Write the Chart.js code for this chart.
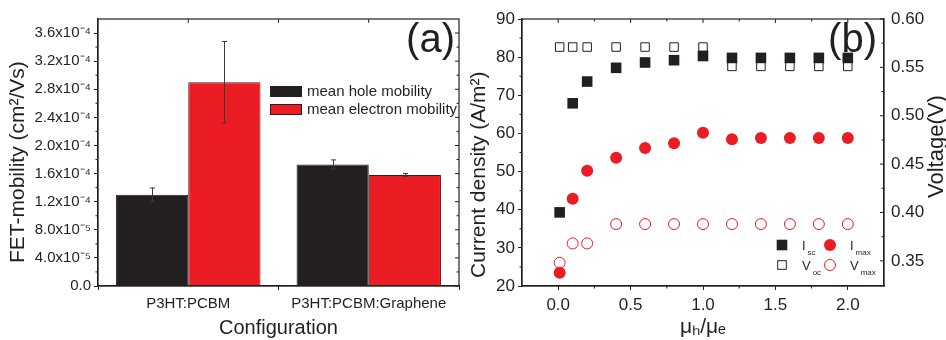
<!DOCTYPE html>
<html>
<head>
<meta charset="utf-8">
<script src="https://cdn.jsdelivr.net/npm/chart.js@4.4.1/dist/chart.umd.min.js"></script>
<style>
  html, body { margin: 0; padding: 0; background: #fff; }
  .panel { position: absolute; top: 0; height: 340px; }
  #wrapA { left: 0; width: 470px; }
  #wrapB { left: 470px; width: 476px; }
</style>
</head>
<body>
<div class="panel" id="wrapA"><canvas id="chartA"></canvas></div>
<div class="panel" id="wrapB"><canvas id="chartB"></canvas></div>
<script>
// panel (a)
const configurations = ['P3HT:PCBM', 'P3HT:PCBM:Graphene'];
const holeMobility = [1.30e-4, 1.73e-4];
const holeError = [0.095e-4, 0.065e-4];
const electronMobility = [2.90e-4, 1.58e-4];
const electronError = [0.58e-4, 0.02e-4];
const mobilityTicks = [0, 4e-5, 8e-5, 1.2e-4, 1.6e-4, 2.0e-4, 2.4e-4, 2.8e-4, 3.2e-4, 3.6e-4];

// panel (b)
const ratio = [0.01, 0.1, 0.2, 0.4, 0.6, 0.8, 1.0, 1.2, 1.4, 1.6, 1.8, 2.0];
const iSc = [39.3, 67.9, 73.6, 77.2, 78.6, 79.2, 80.3, 79.8, 79.8, 79.8, 79.8, 79.8];
const iMax = [23.5, 42.9, 50.2, 53.6, 56.2, 57.4, 60.2, 58.5, 58.8, 58.8, 58.8, 58.8];
const vOc = [0.571, 0.571, 0.571, 0.571, 0.571, 0.571, 0.571, 0.551, 0.551, 0.551, 0.551, 0.551];
const vMax = [0.348, 0.368, 0.368, 0.388, 0.388, 0.388, 0.388, 0.388, 0.388, 0.388, 0.388, 0.388];
const ratioTicks = [0, 0.5, 1.0, 1.5, 2.0];
const currentTicks = [20, 30, 40, 50, 60, 70, 80, 90];
const voltageTicks = [0.35, 0.40, 0.45, 0.50, 0.55, 0.60];

const INK = '#231f20';
const RED = '#ec1c24';
const FONT = '"Liberation Sans", Arial, sans-serif';
Chart.defaults.font.family = FONT;
Chart.defaults.color = INK;

const SUP = { '-': '\u207b', '0': '\u2070', '1': '\u00b9', '2': '\u00b2', '3': '\u00b3', '4': '\u2074',
  '5': '\u2075', '6': '\u2076', '7': '\u2077', '8': '\u2078', '9': '\u2079' };

function sci(v) {
    if (Math.abs(v) < 1e-12) return '0.0';
    const parts = v.toExponential(1).split('e');
    const exp = parts[1].replace('+', '').split('').map(c => SUP[c]).join('');
    return parts[0] + 'x10' + exp;
}

function midpoints(vals) {
    return vals.slice(1).map((v, i) => (v + vals[i]) / 2);
}

function tickMarks(ctx, scale, values, edge, dir, len) {
    ctx.beginPath();
    values.forEach(v => {
        const p = scale.getPixelForValue(v);
        if (scale.isHorizontal()) {
            ctx.moveTo(p, edge);
            ctx.lineTo(p, edge + dir * len);
        } else {
            ctx.moveTo(edge, p);
            ctx.lineTo(edge + dir * len, p);
        }
    });
    ctx.stroke();
}

// vertical axis title, reading bottom to top, starting at (x, y)
function vTitle(ctx, text, x, y, size) {
    ctx.save();
    ctx.translate(x, y);
    ctx.rotate(-Math.PI / 2);
    ctx.font = size + 'px ' + FONT;
    ctx.fillStyle = INK;
    ctx.textAlign = 'left';
    ctx.textBaseline = 'alphabetic';
    ctx.fillText(text, 0, 0);
    ctx.restore();
}

function useTicks(values) {
    return scale => { scale.ticks = values.map(v => ({ value: v })); };
}

const errorBars = {
    id: 'errorBars',
    afterDatasetsDraw(chart) {
        const ctx = chart.ctx;
        const y = chart.scales.y;
        ctx.save();
        ctx.strokeStyle = '#3b3b3b';
        ctx.lineWidth = 1;
        chart.data.datasets.forEach((ds, i) => {
            chart.getDatasetMeta(i).data.forEach((bar, j) => {
                const top = y.getPixelForValue(ds.data[j] + ds.errors[j]);
                const bot = y.getPixelForValue(ds.data[j] - ds.errors[j]);
                const x = Math.round(bar.x) + 0.5;
                ctx.beginPath();
                ctx.moveTo(x, top); ctx.lineTo(x, bot);
                ctx.moveTo(x - 2.5, top); ctx.lineTo(x + 2.5, top);
                ctx.moveTo(x - 2.5, bot); ctx.lineTo(x + 2.5, bot);
                ctx.stroke();
            });
        });
        ctx.restore();
    }
};

const frameA = {
    id: 'frameA',
    afterDraw(chart) {
        const ctx = chart.ctx;
        const a = chart.chartArea;
        const x = chart.scales.x;
        const y = chart.scales.y;
        ctx.save();
        ctx.strokeStyle = INK;
        ctx.lineWidth = 1.2;
        ctx.strokeRect(a.left, a.top, a.right - a.left, a.bottom - a.top);
        ctx.lineWidth = 1;
        tickMarks(ctx, y, midpoints(mobilityTicks), a.left, -1, 2.5);
        tickMarks(ctx, y, mobilityTicks, a.right, -1, 4);
        tickMarks(ctx, y, midpoints(mobilityTicks), a.right, -1, 2.5);
        tickMarks(ctx, x, [0, 0.5, 1], a.top, 1, 4);

        // legend
        const items = [['mean hole mobility', INK], ['mean electron mobility', RED]];
        ctx.font = '15px ' + FONT;
        ctx.textBaseline = 'middle';
        items.forEach((it, i) => {
            const bx = a.left + 172;
            const by = a.top + 67 + i * 18;
            ctx.fillStyle = it[1];
            ctx.fillRect(bx, by, 32, 11);
            ctx.strokeRect(bx + 0.5, by + 0.5, 31, 10);
            ctx.fillStyle = INK;
            ctx.fillText(it[0], bx + 37, by + 6);
        });

        ctx.font = '40px ' + FONT;
        ctx.textAlign = 'right';
        ctx.textBaseline = 'alphabetic';
        ctx.fillText('(a)', a.right - 4, 52);
        ctx.restore();

        vTitle(ctx, 'FET-mobility (cm\u00b2/Vs)', 24, 263, 21);
    }
};

new Chart(document.getElementById('chartA'), {
    type: 'bar',
    data: {
        labels: configurations,
        datasets: [
            {
                label: 'mean hole mobility',
                data: holeMobility,
                errors: holeError,
                backgroundColor: INK,
                borderColor: INK,
                borderWidth: 1,
                categoryPercentage: 0.8,
                barPercentage: 1.0
            },
            {
                label: 'mean electron mobility',
                data: electronMobility,
                errors: electronError,
                backgroundColor: RED,
                borderColor: '#5a1214',
                borderWidth: 1,
                categoryPercentage: 0.8,
                barPercentage: 1.0
            }
        ]
    },
    options: {
        responsive: true,
        maintainAspectRatio: false,
        animation: false,
        layout: { padding: { top: 19, right: 11, left: 0, bottom: 0 } },
        plugins: { legend: { display: false }, tooltip: { enabled: false } },
        scales: {
            x: {
                grid: { drawOnChartArea: false, color: INK, tickLength: 4 },
                border: { color: INK, width: 1.2 },
                ticks: { font: { size: 15 }, padding: 5, color: INK },
                title: { display: true, text: 'Configuration', font: { size: 20 }, padding: { top: 0, bottom: 0 }, color: INK },
                afterFit: s => { s.height = 54; }
            },
            y: {
                min: 0,
                max: 3.8e-4,
                afterBuildTicks: useTicks(mobilityTicks),
                grid: { drawOnChartArea: false, color: INK, tickLength: 4 },
                border: { color: INK, width: 1.2 },
                ticks: { font: { size: 15 }, padding: 3, color: INK, callback: v => sci(v) },
                title: { display: false },
                afterFit: s => { s.width = 98; }
            }
        }
    },
    plugins: [errorBars, frameA]
});

function subLabel(ctx, x, y, main, sub) {
    ctx.font = '13px ' + FONT;
    ctx.fillText(main, x, y);
    const w = ctx.measureText(main).width;
    ctx.font = '8px ' + FONT;
    ctx.fillText(sub, x + w + 2, y + 5);
}

const frameB = {
    id: 'frameB',
    afterDraw(chart) {
        const ctx = chart.ctx;
        const a = chart.chartArea;
        const x = chart.scales.x;
        const y = chart.scales.y;
        const y1 = chart.scales.y1;
        ctx.save();
        ctx.strokeStyle = INK;
        ctx.lineWidth = 1.2;
        ctx.strokeRect(a.left, a.top, a.right - a.left, a.bottom - a.top);
        ctx.lineWidth = 1;
        tickMarks(ctx, y, midpoints(currentTicks), a.left, -1, 2.5);
        tickMarks(ctx, x, midpoints(ratioTicks), a.bottom, 1, 2.5);
        tickMarks(ctx, x, ratioTicks, a.top, 1, 4);
        tickMarks(ctx, x, midpoints(ratioTicks), a.top, 1, 2.5);
        tickMarks(ctx, y1, voltageTicks, a.right, -1, 4);
        tickMarks(ctx, y1, midpoints(voltageTicks), a.right, -1, 2.5);

        // legend
        const c1 = a.right - 102;
        const c2 = a.right - 54;
        const r1 = a.bottom - 41;
        const r2 = a.bottom - 21;
        ctx.fillStyle = INK;
        ctx.fillRect(c1 - 5.3, r1 - 5.3, 10.6, 10.6);
        ctx.fillStyle = '#fff';
        ctx.fillRect(c1 - 4.3, r2 - 4.3, 8.6, 8.6);
        ctx.strokeRect(c1 - 4.3, r2 - 4.3, 8.6, 8.6);
        ctx.fillStyle = RED;
        ctx.beginPath();
        ctx.arc(c2, r1, 6, 0, Math.PI * 2);
        ctx.fill();
        ctx.strokeStyle = RED;
        ctx.beginPath();
        ctx.arc(c2, r2, 5.5, 0, Math.PI * 2);
        ctx.stroke();

        ctx.fillStyle = INK;
        ctx.textBaseline = 'alphabetic';
        subLabel(ctx, c1 + 20, r1 + 4.5, 'I', 'sc');
        subLabel(ctx, c2 + 20, r1 + 4.5, 'I', 'max');
        subLabel(ctx, c1 + 20, r2 + 4.5, 'V', 'oc');
        subLabel(ctx, c2 + 20, r2 + 4.5, 'V', 'max');

        ctx.font = '40px ' + FONT;
        ctx.textAlign = 'right';
        ctx.fillText('(b)', a.right - 7, 52);
        ctx.restore();

        vTitle(ctx, 'Current density (A/m\u00b2)', 15, 278, 21);
        vTitle(ctx, 'Voltage(V)', chart.width - 3, 198, 22);
    }
};

function points(ys) {
    return ratio.map((r, i) => ({ x: r, y: ys[i] }));
}

new Chart(document.getElementById('chartB'), {
    type: 'scatter',
    data: {
        datasets: [
            {
                label: 'Isc',
                data: points(iSc),
                yAxisID: 'y',
                pointStyle: 'rect',
                pointRadius: 7.5,
                backgroundColor: INK,
                borderColor: INK,
                borderWidth: 0,
                order: 1
            },
            {
                label: 'Imax',
                data: points(iMax),
                yAxisID: 'y',
                pointStyle: 'circle',
                pointRadius: 6,
                backgroundColor: RED,
                borderColor: RED,
                borderWidth: 0,
                order: 1
            },
            {
                label: 'Voc',
                data: points(vOc),
                yAxisID: 'y1',
                pointStyle: 'rect',
                pointRadius: 6,
                backgroundColor: '#fff',
                borderColor: INK,
                borderWidth: 1,
                order: 2
            },
            {
                label: 'Vmax',
                data: points(vMax),
                yAxisID: 'y1',
                pointStyle: 'circle',
                pointRadius: 5.5,
                backgroundColor: '#fff',
                borderColor: RED,
                borderWidth: 1,
                order: 2
            }
        ]
    },
    options: {
        responsive: true,
        maintainAspectRatio: false,
        animation: false,
        layout: { padding: { top: 19, right: 0, left: 0, bottom: 0 } },
        plugins: { legend: { display: false }, tooltip: { enabled: false } },
        scales: {
            x: {
                type: 'linear',
                min: -0.25,
                max: 2.25,
                afterBuildTicks: useTicks(ratioTicks),
                grid: { drawOnChartArea: false, color: INK, tickLength: 4 },
                border: { color: INK, width: 1.2 },
                ticks: { font: { size: 17 }, padding: 5, color: INK, callback: v => v.toFixed(1) },
                title: { display: true, text: '\u03bc\u2095/\u03bc\u2091', font: { size: 21 }, padding: { top: 0, bottom: 0 }, color: INK },
                afterFit: s => { s.height = 54; }
            },
            y: {
                position: 'left',
                min: 20,
                max: 90,
                afterBuildTicks: useTicks(currentTicks),
                grid: { drawOnChartArea: false, color: INK, tickLength: 4 },
                border: { color: INK, width: 1.2 },
                ticks: { font: { size: 17 }, padding: 3, color: INK },
                title: { display: false },
                afterFit: s => { s.width = 52; }
            },
            y1: {
                position: 'right',
                min: 0.324,
                max: 0.6,
                afterBuildTicks: useTicks(voltageTicks),
                grid: { drawOnChartArea: false, drawTicks: false, color: INK },
                border: { color: INK, width: 1.2 },
                ticks: { font: { size: 17 }, padding: 7, color: INK, callback: v => v.toFixed(2) },
                title: { display: false },
                afterFit: s => { s.width = 62; }
            }
        }
    },
    plugins: [frameB]
});
</script>
</body>
</html>
